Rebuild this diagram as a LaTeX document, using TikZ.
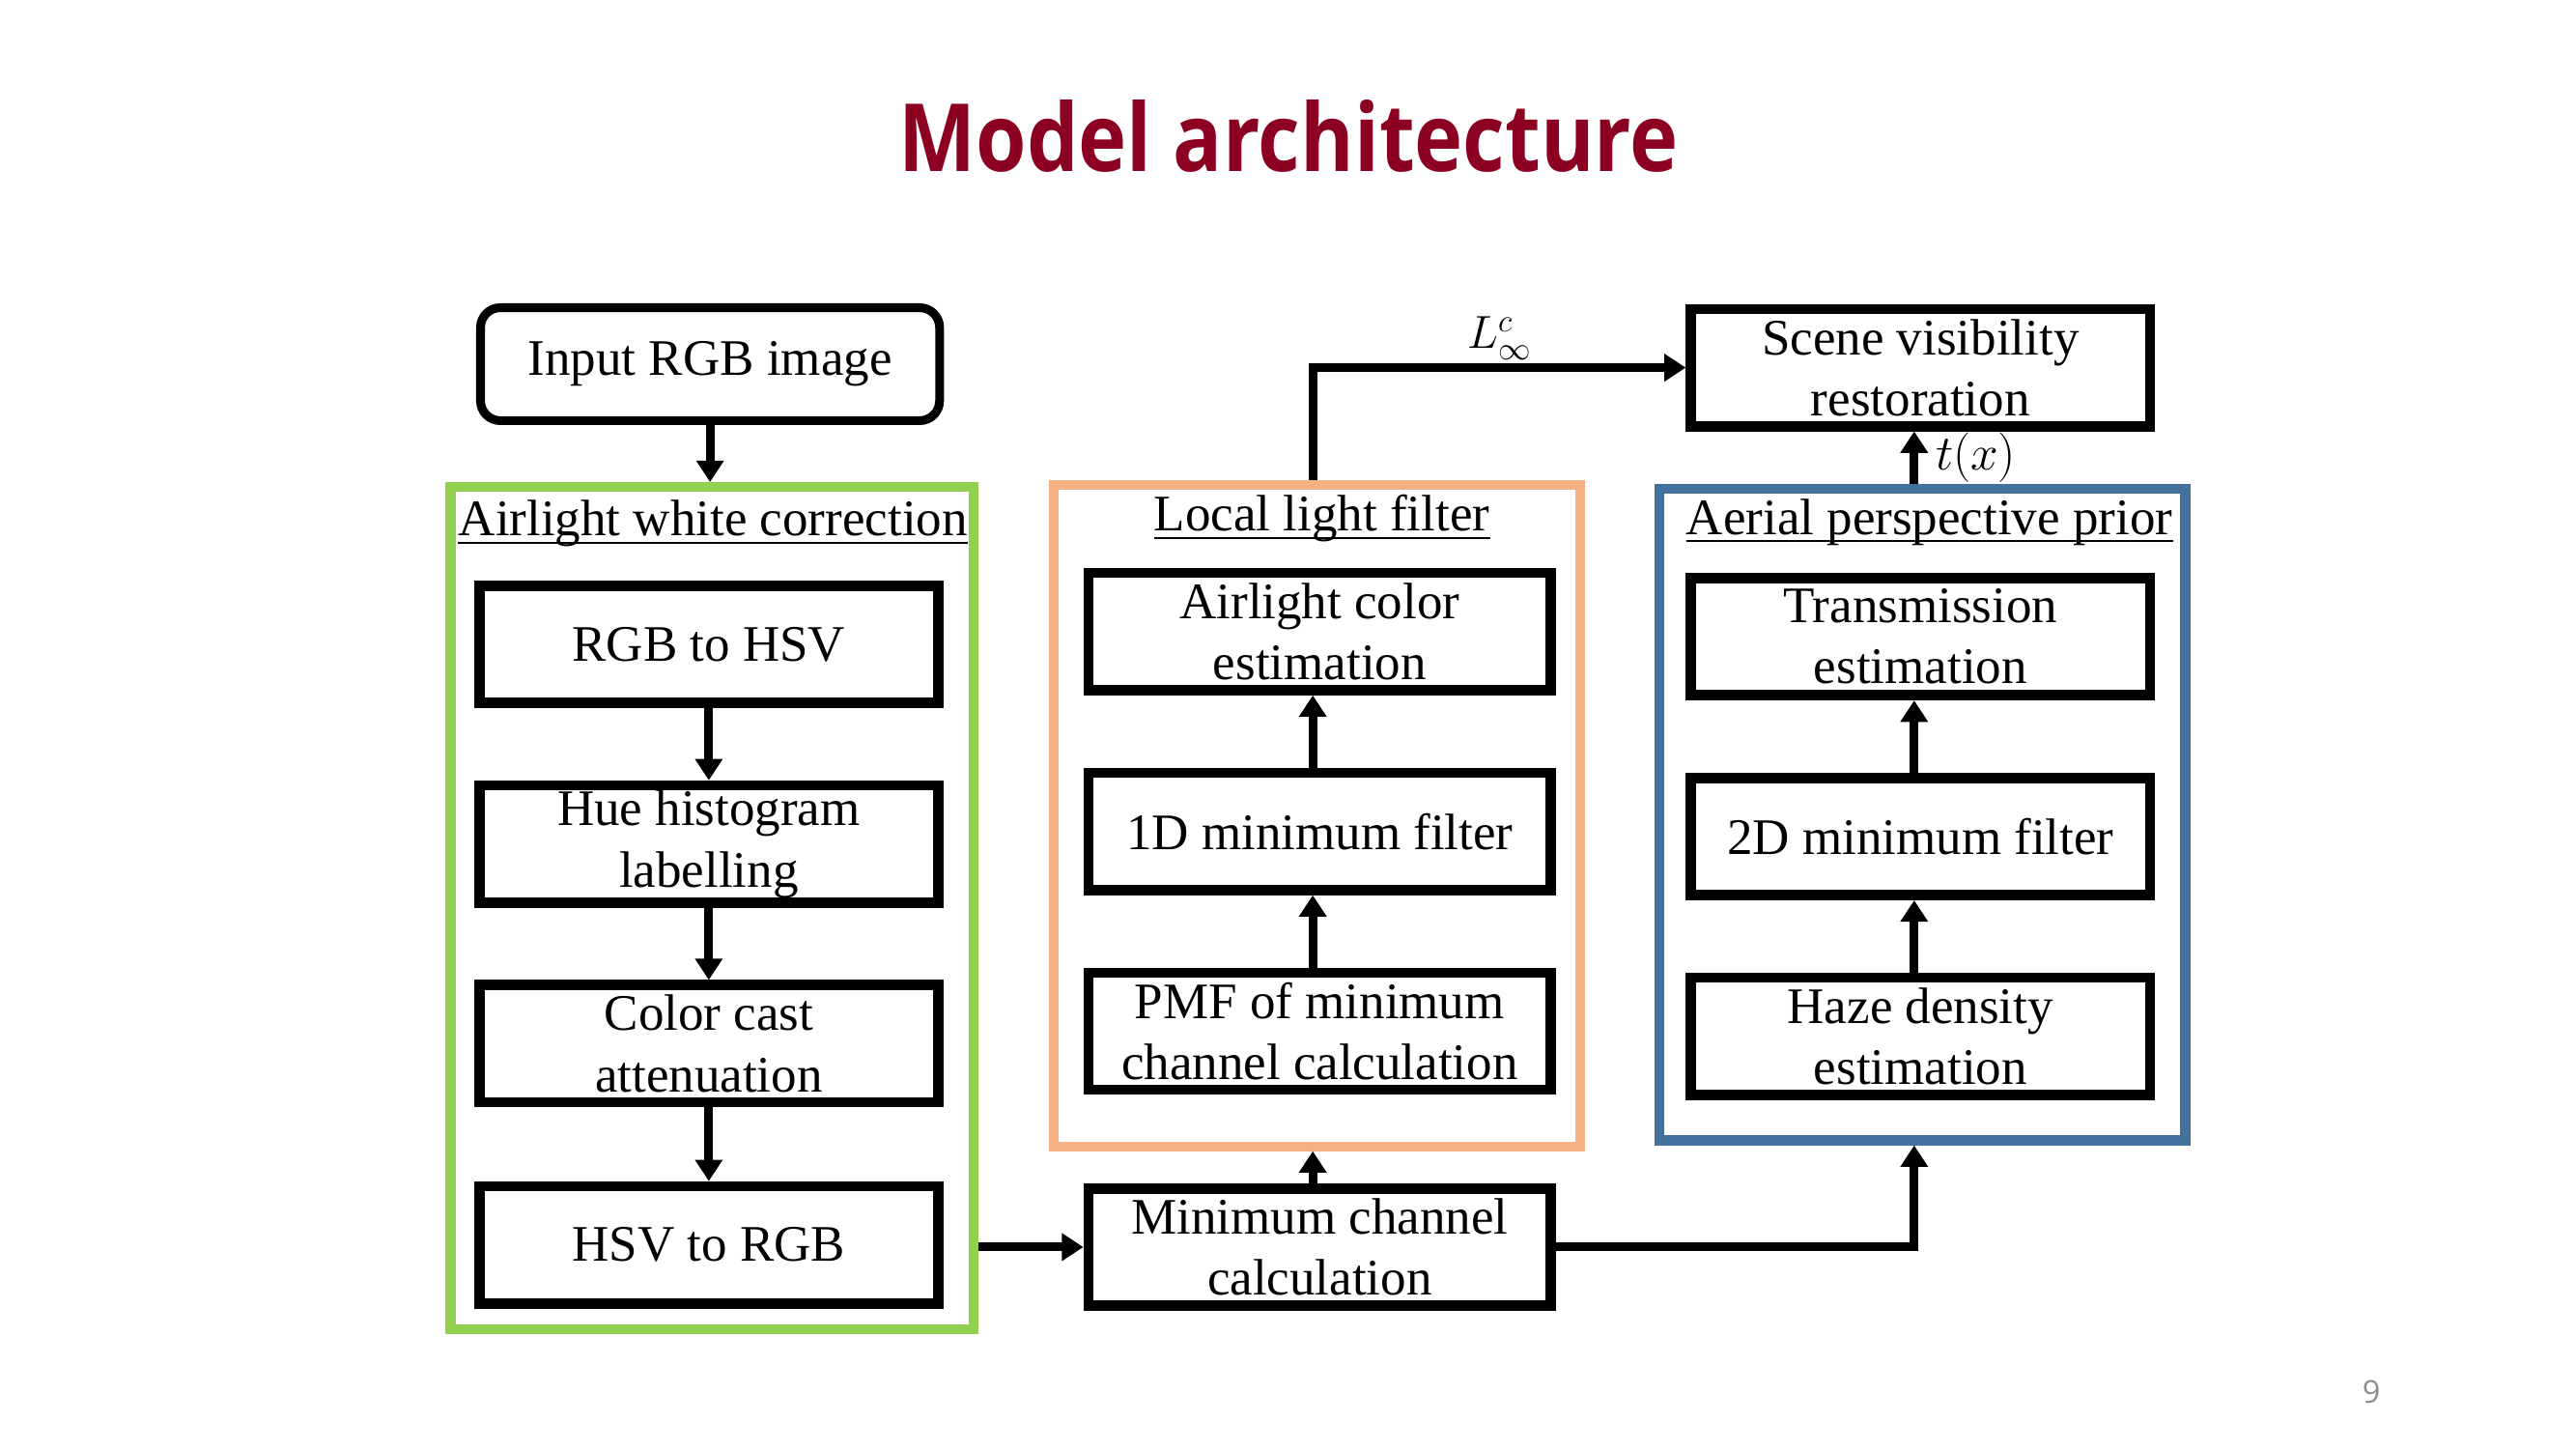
\documentclass[tikz,border=0pt]{standalone}
\usepackage{fix-cm}
\usepackage{fontspec}
\setmainfont{Liberation Serif}
\newfontfamily\titlefont[FakeStretch=0.87]{Open Sans}
\newfontfamily\pagefont{Open Sans}
\usepackage{tikz}
\usetikzlibrary{arrows.meta,positioning}
\definecolor{titlered}{RGB}{140,0,34}
\definecolor{awcgreen}{RGB}{146,208,80}
\definecolor{llforange}{RGB}{244,177,131}
\definecolor{appblue}{RGB}{65,113,156}

\begin{document}
\begin{tikzpicture}[x=1pt,y=-1pt,
box/.style={draw,line width=6.2pt,minimum width=278pt,minimum height=71pt,inner sep=0pt,align=center,font=\fontsize{31}{37}\selectfont},
frame/.style={line width=5.9pt,minimum width=317pt,inner sep=0pt},
grp/.style={anchor=base,inner sep=0pt,font=\fontsize{31}{37}\selectfont},
>={Triangle[length=13pt,width=16pt]}]
\useasboundingbox (0,0) rectangle (1560,877.5);
\node[font=\titlefont\bfseries\fontsize{57}{68}\selectfont,text=titlered,anchor=base] (T) at (780.5,104) {Model architecture};
\node[box,rounded corners=12pt,line width=5.3pt,minimum height=68.4pt] (IN) at (430,220.5) {Input RGB image};
% airlight white correction
\node[frame,draw=awcgreen,minimum height=510pt] (AWC) at (431.35,549.85) {};
\node[grp] (AWCt) at (431.8,324.6) {Airlight white correction};
\node[box] (RH) at (429.25,390.2) {RGB to HSV};
\node[box] (HH) at (429.25,511.1) {Hue histogram\\labelling};
\node[box] (CC) at (429.25,632) {Color cast\\attenuation};
\node[box] (HR) at (429.25,753.8) {HSV to RGB};
% local light filter
\node[frame,draw=llforange,minimum width=318.6pt,minimum height=400.4pt] (LLF) at (797.45,493.85) {};
\node[grp] (LLFt) at (800.5,321.7) {Local light filter};
\node[box,minimum width=280pt] (AC) at (799.2,382.4) {Airlight color\\estimation};
\node[box,minimum width=280pt] (MF1) at (799.2,503.4) {1D minimum filter};
\node[box,minimum width=280pt] (PMF) at (799.2,624.4) {PMF of minimum\\channel calculation};
\node[box,minimum width=280pt] (MC) at (799.2,755.1) {Minimum channel\\calculation};
% aerial perspective prior
\node[frame,draw=appblue,line width=6pt,minimum width=318.3pt,minimum height=394.5pt] (APP) at (1164.25,493.25) {};
\node[grp] (APPt) at (1168.4,323.5) {Aerial perspective prior};
\node[box] (TE) at (1163,385.5) {Transmission\\estimation};
\node[box] (MF2) at (1163,506.5) {2D minimum filter};
\node[box] (HD) at (1163,627.5) {Haze density\\estimation};
\node[box] (SV) at (1163,222.6) {Scene visibility\\restoration};
\node[font=\pagefont\fontsize{19}{22}\selectfont,text=black!45] (P) at (1436,843) {9};
\coordinate (m) at (795,0);
\coordinate (r) at (1159.2,0);
\foreach \t in {AWCt,LLFt,APPt}
  \draw[line width=1.2pt] ([yshift=-4.3pt]\t.base west) -- ([yshift=-4.3pt]\t.base east);
\path[->,line width=5.3pt]
(IN.south) edge (IN.south |- AWC.north)
(RH) edge (HH)
(HH) edge (CC)
(CC) edge (HR)
(MF1.north -| m) edge (AC.south -| m)
(PMF.north -| m) edge (MF1.south -| m)
(MF2.north -| r) edge (TE.south -| r)
(HD.north -| r) edge (MF2.south -| r)
(MC.north -| m) edge (LLF.south -| m)
(AWC.east |- MC.west) edge (MC.west)
(APP.north -| r) edge node[right,xshift=7pt,font=\fontsize{30}{34}\selectfont]{$t(x)$} (SV.south -| r);
\draw[->,line width=5.3pt] (LLF.north -| m) |- node[pos=0.75,above,inner sep=2pt,font=\fontsize{28}{32}\selectfont]{$L^c_\infty$} (SV.west);
\draw[->,line width=5.3pt] (MC.east) -| (APP.south -| r);
\end{tikzpicture}
\end{document}
